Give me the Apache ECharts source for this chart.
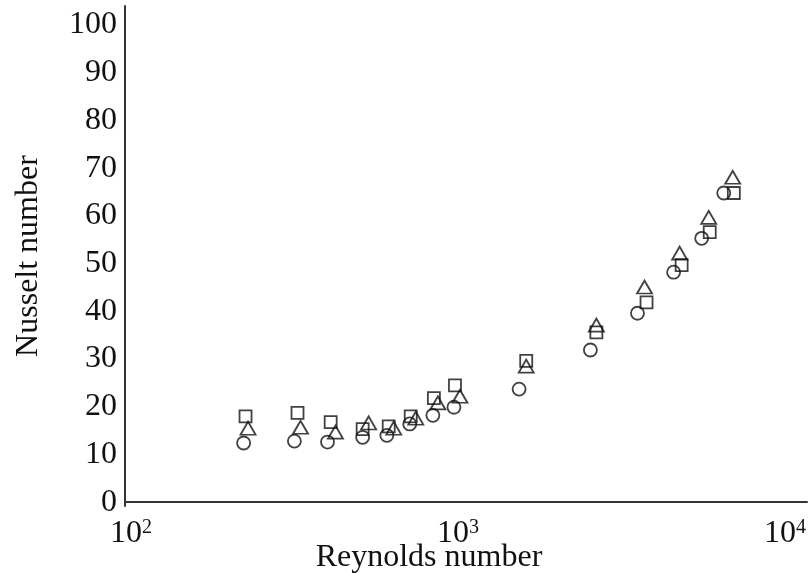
<!DOCTYPE html>
<html>
<head>
<meta charset="utf-8">
<script src="https://cdn.jsdelivr.net/npm/echarts@6/dist/echarts.min.js"></script>
<style>html,body{margin:0;padding:0;background:#fff}#c{width:809px;height:573px}</style>
</head>
<body>
<div id="c"></div>
<script>
// Reynolds number / Nusselt number pairs
const circleRe = [221, 316, 399, 511, 606, 712, 838, 972, 1538, 2541, 3540, 4566, 5564, 6500];
const circleNu = [12.4, 12.8, 12.6, 13.6, 14.0, 16.4, 18.2, 19.9, 23.7, 31.9, 39.6, 48.2, 55.3, 64.8];
const squareRe = [224, 323, 408, 511, 614, 717, 844, 979, 1617, 2650, 3773, 4831, 5888, 6977];
const squareNu = [18.0, 18.7, 16.8, 15.3, 15.9, 18.0, 21.8, 24.5, 29.6, 35.6, 41.9, 49.7, 56.6, 64.8];
const triangleRe = [228, 330, 422, 533, 636, 743, 868, 1014, 1617, 2650, 3720, 4763, 5847, 6923];
const triangleNu = [15.5, 15.7, 14.7, 16.6, 15.5, 17.6, 20.8, 22.2, 28.5, 37.1, 45.1, 52.2, 59.7, 68.1];
const yTicks = [0, 10, 20, 30, 40, 50, 60, 70, 80, 90, 100];
const xAxisTitle = 'Reynolds number';
const yAxisTitle = 'Nusselt number';

const pairs = (xs, ys) => xs.map((x, i) => [x, ys[i]]);
const font = '"Liberation Serif", "Times New Roman", serif';
const txt = '#111';
const mk = (name, symbol, size, xs, ys) => ({
  name, type: 'scatter', symbol, symbolSize: size,
  data: pairs(xs, ys),
  itemStyle: { color: 'rgba(255,255,255,0)', borderColor: '#111', borderWidth: 1.8 },
  emphasis: { disabled: true }
});

const chart = echarts.init(document.getElementById('c'), null, { renderer: 'canvas' });
chart.setOption({
  animation: false,
  backgroundColor: '#fff',
  grid: { left: 125, right: 2, top: 6, bottom: 67, outerBoundsMode: 'none', containLabel: false },
  xAxis: {
    type: 'log', logBase: 10, min: 95.85, max: 11681,
    splitLine: { show: false }, axisTick: { show: false }, minorTick: { show: false },
    axisLine: { lineStyle: { color: '#333', width: 2 } },
    axisLabel: {
      margin: 12, color: txt, fontFamily: font, fontSize: 32,
      showMinLabel: true, showMaxLabel: true,
      formatter: v => {
        const e = Math.log10(v);
        if (Math.abs(e - Math.round(e)) > 1e-6) return '';
        return '{b|10}{s|' + Math.round(e) + '}';
      },
      rich: {
        b: { fontFamily: font, fontSize: 32, color: txt },
        s: { fontFamily: font, fontSize: 20, color: txt, verticalAlign: 'top' }
      }
    },
    name: xAxisTitle, nameLocation: 'middle', nameGap: 36, nameMoveOverlap: false,
    nameTextStyle: { color: txt, fontFamily: font, fontSize: 32, padding: [0, 74, 0, 0] }
  },
  yAxis: {
    type: 'value', min: -0.8, max: 104,
    splitLine: { show: false }, axisTick: { show: false },
    axisLine: { lineStyle: { color: '#333', width: 2 } },
    axisLabel: {
      customValues: yTicks, margin: 8, color: txt, fontFamily: font, fontSize: 32
    },
    name: yAxisTitle, nameLocation: 'middle', nameGap: 80, nameMoveOverlap: false,
    nameTextStyle: { color: txt, fontFamily: font, fontSize: 32 }
  },
  series: [
    mk('circle', 'circle', 13, circleRe, circleNu),
    mk('square', 'rect', 12, squareRe, squareNu),
    mk('triangle', 'triangle', [15, 13], triangleRe, triangleNu)
  ]
});
</script>
</body>
</html>
